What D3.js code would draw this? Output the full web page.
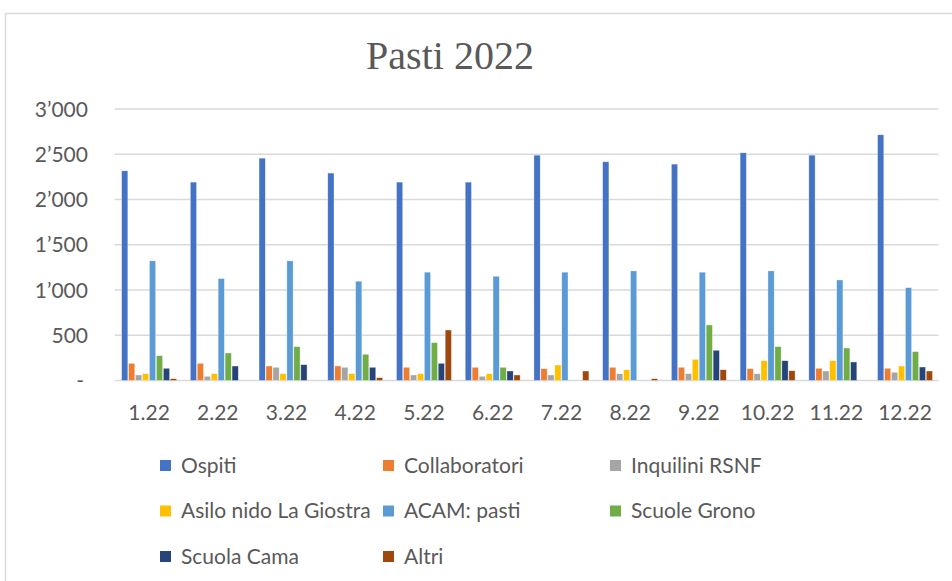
<!DOCTYPE html>
<html>
<head>
<meta charset="utf-8">
<title>Pasti 2022</title>
<script src="https://d3js.org/d3.v7.min.js"></script>
<style>
  body { margin: 0; background: #fff; }
  svg { display: block; }
</style>
</head>
<body>
<div id="chart"></div>
<script>
const months = ["1.22", "2.22", "3.22", "4.22", "5.22", "6.22", "7.22", "8.22", "9.22", "10.22", "11.22", "12.22"]
const seriesNames = ["Ospiti", "Collaboratori", "Inquilini RSNF", "Asilo nido La Giostra", "ACAM: pasti", "Scuole Grono", "Scuola Cama", "Altri"]
const colors = ["#4472C4", "#ED7D31", "#A5A5A5", "#FFC000", "#5B9BD5", "#70AD47", "#264478", "#9E480E"]

const ospiti = [2317, 2192, 2457, 2292, 2192, 2192, 2490, 2417, 2391, 2516, 2490, 2715]
const collaboratori = [190, 190, 160, 160, 146, 146, 131, 146, 146, 131, 135, 135]
const inquilini = [61, 46, 146, 146, 61, 46, 61, 75, 75, 75, 105, 91]
const asilo = [75, 75, 75, 75, 75, 75, 171, 119, 234, 219, 219, 160]
const acam = [1322, 1126, 1322, 1097, 1197, 1152, 1197, 1211, 1197, 1211, 1111, 1026]
const grono = [274, 304, 374, 290, 418, 146, 0, 0, 614, 374, 359, 319]
const cama = [135, 160, 175, 146, 190, 105, 0, 0, 334, 219, 205, 149]
const altri = [20, 0, 0, 31, 558, 61, 105, 20, 119, 108, 0, 105]

const yTicks = [0, 500, 1000, 1500, 2000, 2500, 3000]

const seriesValues = [ospiti, collaboratori, inquilini, asilo, acam, grono, cama, altri]

const w = 952, h = 581
const textColor = "#595959"
const sans = "Lato, 'Open Sans', sans-serif"
const fontSize = "21px"

const svg = d3.select("#chart").append("svg").attr("width", w).attr("height", h)

// chart frame
svg.append("rect")
  .attr("x", 5.5).attr("y", 13.5)
  .attr("width", w + 10).attr("height", h + 10)
  .style("fill", "none").style("stroke", "#d9d9d9").style("stroke-width", 1.5)

svg.append("text")
  .attr("x", 450).attr("y", 69)
  .attr("text-anchor", "middle")
  .style("font-family", "'Liberation Serif', serif")
  .style("font-size", "40px")
  .style("fill", textColor)
  .text("Pasti 2022")

const plotLeft = 114.7, plotRight = 939.4

const x0 = d3.scaleBand().domain(months).range([plotLeft, plotRight]).paddingInner(0.18).paddingOuter(0.09)
const x1 = d3.scaleBand().domain(d3.range(seriesNames.length)).range([0, x0.bandwidth()]).padding(0.1)
const y = d3.scaleLinear().domain([0, 3000]).range([380.5, 109])

const fmt = v => v === 0 ? "-" : d3.format(",")(v).replace(/,/g, "\u2019")

// gridlines
svg.append("g").selectAll("line")
  .data(yTicks)
  .join("line")
  .attr("x1", plotLeft).attr("x2", plotRight - 1)
  .attr("y1", d => y(d)).attr("y2", d => y(d))
  .style("stroke", "#d9d9d9").style("stroke-width", 1.5)

// y labels
svg.append("g").selectAll("text")
  .data(yTicks)
  .join("text")
  .attr("x", d => d === 0 ? 84 : 88)
  .attr("y", d => y(d) + 7.5)
  .attr("text-anchor", "end")
  .style("font-family", sans).style("font-size", fontSize).style("fill", textColor)
  .text(fmt)

// bars
const groups = svg.append("g").selectAll("g")
  .data(months.map((m, i) => ({ month: m, vals: seriesValues.map(s => s[i]) })))
  .join("g")
  .attr("transform", d => `translate(${x0(d.month)},0)`)

groups.selectAll("rect")
  .data(d => d.vals.map((v, k) => ({ k, v })).filter(e => e.v > 0))
  .join("rect")
  .attr("x", d => x1(d.k))
  .attr("y", d => y(d.v))
  .attr("width", x1.bandwidth())
  .attr("height", d => y(0) - y(d.v))
  .style("fill", d => colors[d.k])
  .style("stroke", "#fff").style("stroke-width", 0.6).style("stroke-opacity", 0.6)

// x labels
svg.append("g").selectAll("text")
  .data(months)
  .join("text")
  .attr("x", d => x0(d) + x0.bandwidth() / 2)
  .attr("y", 420)
  .attr("text-anchor", "middle")
  .style("font-family", sans).style("font-size", fontSize).style("fill", textColor)
  .text(d => d)

// legend
const legCols = [160, 383, 610]
const legRows = [465.5, 511, 556.5]
const legend = svg.append("g").selectAll("g")
  .data(seriesNames)
  .join("g")
  .attr("transform", (d, i) => `translate(${legCols[i % 3]},${legRows[Math.floor(i / 3)]})`)

legend.append("rect")
  .attr("x", 0).attr("y", -5.5).attr("width", 11).attr("height", 11)
  .style("fill", (d, i) => colors[i])

legend.append("text")
  .attr("x", 21).attr("y", 7)
  .style("font-family", sans).style("font-size", fontSize).style("fill", textColor)
  .text(d => d)
</script>
</body>
</html>
